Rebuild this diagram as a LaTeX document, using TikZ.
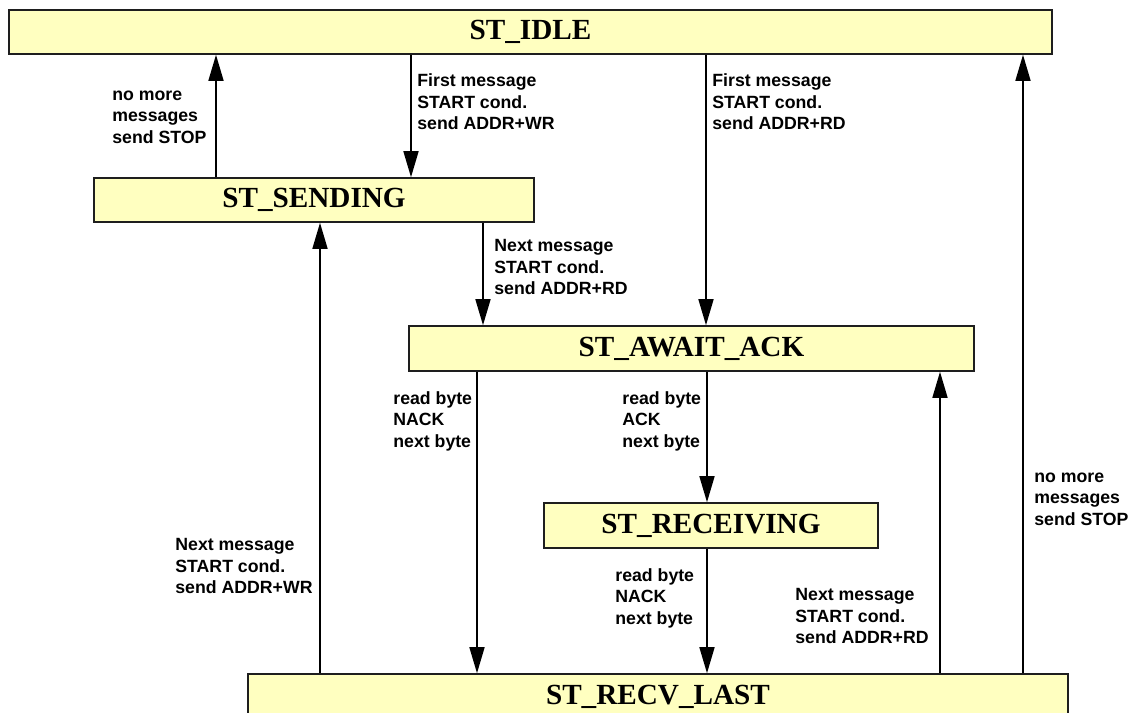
\documentclass[tikz,border=0pt]{standalone}
\usepackage{fontspec}
\setmainfont{Liberation Serif}
\setsansfont{Liberation Sans}
\usepackage{tikz}
\usetikzlibrary{arrows.meta}
\definecolor{StFill}{RGB}{255,255,192}
\definecolor{StLine}{RGB}{30,30,30}
\tikzset{
  state/.style={draw=StLine,fill=StFill,line width=0.8pt,inner sep=0pt,
    font=\bfseries\fontsize{14.6}{16}\selectfont},
  arr/.style={line width=0.8pt,-{Triangle[length=13pt,width=7.5pt]}},
  lbl/.style={anchor=west,align=left,inner sep=0pt,
    font=\sffamily\bfseries\fontsize{8.85}{10.75}\selectfont},
}
\begin{document}
\begin{tikzpicture}[x=0.5pt,y=-0.5pt]
\useasboundingbox (0,0) rectangle (1137,713);
% states (centre at pixel position, sizes in pt = px/2)
\node[state,minimum width=521.5pt,minimum height=22pt](idle)     at (530.5,32)  {ST\_IDLE};
\node[state,minimum width=220pt,  minimum height=22pt](sending)  at (314,200)   {ST\_SENDING};
\node[state,minimum width=282.5pt,minimum height=22.5pt](await)  at (691.5,348.5){ST\_AWAIT\_ACK};
\node[state,minimum width=167pt,  minimum height=22.5pt](recv)   at (711,525.5) {ST\_RECEIVING};
\node[state,minimum width=410pt,  minimum height=22.5pt](last)   at (658,696.5) {ST\_RECV\_LAST};

% transitions
\draw[arr](216,0 |- sending.north)--(216,0 |- idle.south);
\node[lbl](stop1) at (112,117){no more\\messages\\send STOP};
\draw[arr](411,0 |- idle.south)--(411,0 |- sending.north);
\node[lbl](wr1) at (417,102){First message\\START cond.\\send ADDR+WR};
\draw[arr](706,0 |- idle.south)--(706,0 |- await.north);
\node[lbl](rd1) at (712,102){First message\\START cond.\\send ADDR+RD};
\draw[arr](483,0 |- sending.south)--(483,0 |- await.north);
\node[lbl](rd2) at (494,267){Next message\\START cond.\\send ADDR+RD};

\draw[arr](477,0 |- await.south)--(477,0 |- last.north);
\node[lbl](nack1) at (393,421){read byte\\NACK\\next byte};
\draw[arr](707,0 |- await.south)--(707,0 |- recv.north);
\node[lbl](ack1) at (622,421){read byte\\ACK\\next byte};
\draw[arr](707,0 |- recv.south)--(707,0 |- last.north);
\node[lbl](nack2) at (615,598){read byte\\NACK\\next byte};

\draw[arr](320,0 |- last.north)--(320,0 |- sending.south);
\node[lbl](wr2) at (175,566){Next message\\START cond.\\send ADDR+WR};
\draw[arr](940,0 |- last.north)--(940,0 |- await.south);
\node[lbl](rd3) at (795,616){Next message\\START cond.\\send ADDR+RD};
\draw[arr](1023,0 |- last.north)--(1023,0 |- idle.south);
\node[lbl](stop2) at (1034,499){no more\\messages\\send STOP};
\end{tikzpicture}
\end{document}
